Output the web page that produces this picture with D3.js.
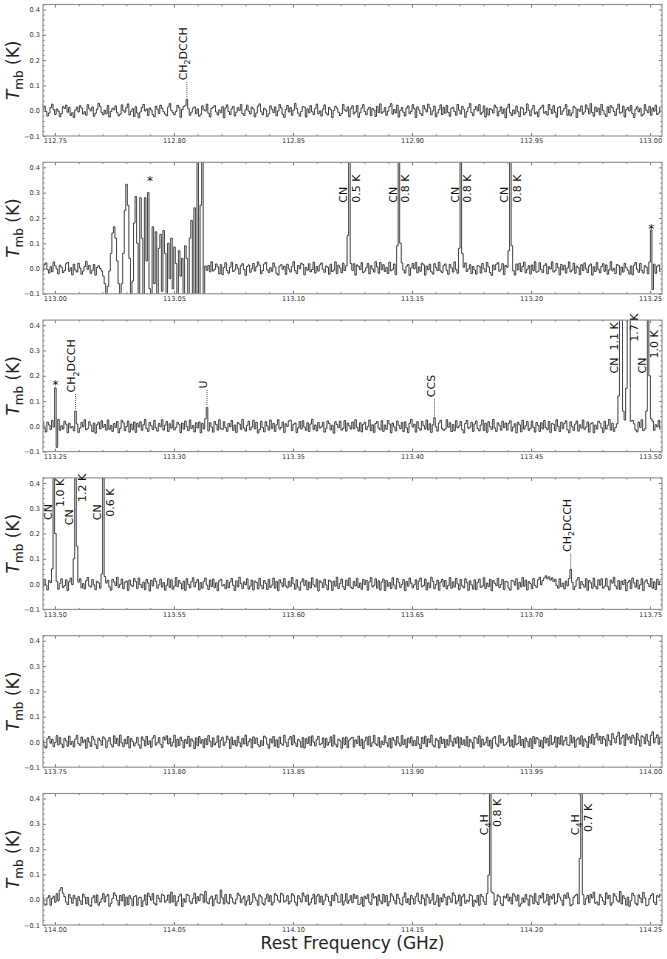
<!DOCTYPE html>
<html><head><meta charset="utf-8">
<script src="https://cdn.jsdelivr.net/npm/d3@7"></script>
<style>body{margin:0;background:#fff;} text{font-family:"DejaVu Sans",sans-serif;}</style>
</head><body><svg id="c" width="667" height="959"></svg>
<script>
// ---- data ----
const panelStart = [112.745, 112.995, 113.245, 113.495, 113.745, 113.995]; // GHz, left edge of each panel
const panelSpan = 0.26;
const chanWidth = 0.00065; // GHz per channel
const yMin = -0.1, yMax = 0.42;
const xTickVals = [
  [112.75,112.80,112.85,112.90,112.95,113.00],
  [113.00,113.05,113.10,113.15,113.20,113.25],
  [113.25,113.30,113.35,113.40,113.45,113.50],
  [113.50,113.55,113.60,113.65,113.70,113.75],
  [113.75,113.80,113.85,113.90,113.95,114.00],
  [114.00,114.05,114.10,114.15,114.20,114.25]];
const yTickVals = [-0.1,0.0,0.1,0.2,0.3,0.4];
const yTickLabels = ["\u22120.1","0.0","0.1","0.2","0.3","0.4"];

// baseline spectra (mK), one value per channel
const spec1 = [5,18,-3,-21,-9,12,26,4,-15,7,-2,-24,-11,16,9,22,-6,13,-19,-8,
-27,3,14,-5,20,11,-13,-4,-18,24,8,-1,15,-22,-10,6,29,17,-7,-16,
2,-12,21,-25,-3,10,4,19,-8,-20,-14,23,1,-6,12,27,-17,-2,8,-23,
16,-9,-28,-5,13,25,-1,7,-19,11,3,-15,-24,18,6,-11,22,9,-4,-13,
-20,14,28,2,-7,-16,-3,21,12,-26,5,17,-9,-2,24,-18,-6,10,15,-12,
7,-22,-14,19,4,-1,26,-10,-25,9,13,20,-5,-17,3,-8,16,-28,11,23,
-3,-15,8,17,-21,-6,12,1,25,-11,-19,4,22,-2,-13,14,7,-24,-9,18,
27,-4,-16,10,3,-23,-12,19,6,-7,15,-20,-1,24,11,-14,-26,5,21,-5,
12,-18,2,29,8,-10,-22,-3,16,14,-25,7,-8,20,-4,-15,9,26,-12,-1,
-21,6,23,-9,-17,13,4,-27,1,18,10,-6,-19,-11,25,3,-2,15,-24,8,
19,-13,-5,21,-26,-8,11,24,-3,-16,6,14,-20,9,2,-23,17,-7,27,-10,
-4,12,-18,-2,16,28,-14,5,-9,22,-25,1,13,-6,-21,10,19,-12,-3,24,
8,-27,15,3,-11,-19,20,7,-5,26,11,-16,-1,18,-24,-9,4,23,-15,13,
-10,21,-7,-22,9,14,-3,-18,25,2,-13,17,6,-26,-4,12,28,-8,-20,5,
16,-1,24,-14,-6,19,-25,10,-17,8,4,-9,22,13,-21,-2,15,-11,7,-28,
11,26,-8,-19,3,-12,18,-4,-23,14,9,-16,-7,27,1,-20,6,21,-13,-5,
-24,7,13,22,-10,-3,-17,25,5,-11,20,-6,-26,12,16,-15,-1,9,24,-18,
3,-20,-9,17,11,-27,6,-2,19,-14,-5,23,8,-12,28,-7,-22,14,-4,10,
-16,25,1,-13,-23,15,-8,20,12,-3,-19,7,26,-10,-6,18,-25,4,13,-1,
21,-11,-27,6,16,-5,9,-21,-14,24,2,-8,17,-18,11,-2,22,-15,-9,14];
const spec2 = [-9,15,22,-4,-18,7,-13,26,10,-2,-21,13,5,-16,-8,19,24,-11,3,-25,
17,-6,-14,21,2,-23,-10,8,28,-3,12,-19,-7,16,-26,4,11,-15,23,1,
-12,20,6,-27,-5,14,18,-9,-20,3,25,-16,9,-1,-22,13,-7,27,-13,5,
24,-3,-17,11,16,-24,-8,2,19,-12,-26,7,21,-5,10,-18,15,-2,-21,12,
-6,26,-11,-19,8,3,22,-14,5,-28,13,17,-4,-9,24,-20,1,11,-15,18,
9,-16,14,-2,-25,20,-7,12,-13,27,-10,-3,18,6,-21,15,-24,4,23,-8,
-19,5,25,-12,-6,16,1,-22,11,19,-4,-27,8,14,-15,-1,20,-10,7,26,
13,-21,-8,18,24,-5,-16,3,-11,22,6,-19,-26,10,15,-3,9,-23,17,-2,
-14,7,27,-9,-20,12,-1,21,16,-25,4,-7,19,-13,-4,25,-18,8,-10,14,
22,-3,-15,10,5,-23,17,-12,-6,26,-20,13,2,-17,21,-8,-24,16,1,-11,
-7,19,-26,14,8,-4,23,-16,-10,3,20,-21,11,-2,-14,27,6,-19,24,-5,
15,-12,4,-20,25,-9,-3,18,-24,12,-15,7,22,-6,-18,9,16,-27,2,20,
-1,24,-17,6,-11,21,14,-26,9,-5,17,-13,-22,19,4,-8,25,-10,-16,11,
18,-7,-23,16,3,-14,26,-4,-19,13,10,-25,5,22,-12,-2,15,-20,8,-6,
-22,11,9,-18,20,-1,-13,24,7,-16,-27,14,-5,17,23,-11,-3,19,-24,12,
5,-20,16,2,-9,-26,18,-6,21,-12,8,25,-17,-3,11,-22,14,-8,27,-15,
-11,23,-4,-16,12,19,-21,7,-2,26,-14,-9,20,4,-25,16,-6,13,-18,2,
26,-13,-6,21,-19,9,3,-24,15,-8,22,-1,-16,10,18,-26,7,-12,24,-4,
-17,8,19,-11,14,-23,-5,27,-9,1,-20,16,12,-24,6,-14,21,3,-7,-22,
10,-25,13,24,-3,-15,20,-8,-18,11,5,-21,26,-10,-2,17,-19,9,14,-12];
const spec3 = [14,-8,-22,17,5,-13,23,-3,-19,10,27,-16,2,-11,20,8,-25,12,-6,-1,
-18,21,9,-24,-7,15,-2,26,-14,-9,18,4,-21,13,-27,6,16,-10,22,-4,
7,-15,25,-12,3,-20,11,-5,19,-26,-8,24,14,-17,-1,21,-23,9,-13,17,
-24,12,-3,18,-16,6,27,-9,-20,15,2,-13,23,-6,-19,11,-2,26,-15,4,
19,-21,10,-7,24,-14,-4,16,8,-25,13,-11,21,-1,-17,25,-8,3,-22,14,
-6,17,-26,12,-10,22,3,-18,14,-3,-23,19,7,-15,26,-9,-12,18,-5,-20,
11,-2,23,-16,5,-24,15,9,-12,27,-7,-19,4,20,-14,-3,24,-10,16,-26,
-13,20,-5,-22,18,1,-15,25,-8,12,-20,6,26,-11,-4,17,-24,10,-1,21,
24,-17,8,13,-25,-6,19,-10,22,-3,-16,14,-21,9,28,-12,5,-18,15,-7,
-2,16,-23,-9,21,11,-14,4,-27,18,7,-5,20,-15,-8,23,-19,13,2,-11,
17,-10,26,-4,-19,14,-22,8,16,-13,-1,25,-17,6,-24,11,19,-7,-14,22,
-20,5,-12,23,9,-26,13,-2,-18,21,4,-9,15,-21,18,-6,-25,12,27,-3,
8,-23,18,-7,-15,20,3,-11,25,-14,10,-24,6,17,-2,-19,13,24,-9,-16,
-11,26,-4,14,-21,7,-17,22,-6,1,19,-13,-26,11,23,-8,-3,16,-20,9,
21,-9,-18,5,25,-16,12,-24,18,-2,-12,27,-7,-20,14,4,-15,20,-5,13,
-15,12,22,-19,-3,10,-26,16,6,-22,24,-11,2,19,-16,-8,21,-4,-23,15,
3,-20,14,-10,23,-5,-13,19,-24,11,8,-17,26,-1,-21,16,-9,12,22,-14,
-25,18,-1,-16,9,21,-19,6,-7,25,-12,-3,17,-23,10,14,-26,5,-11,20,
13,-6,-24,20,-11,4,27,-15,12,-20,-5,22,9,-18,-3,25,-13,18,-8,-21,
-8,23,10,-14,-22,17,-4,26,-17,2,15,-25,11,-9,21,-16,6,-2,24,-12];
const spec4 = [-12,19,-4,-23,14,6,-17,25,-9,11,-20,3,21,-14,-6,17,-25,9,24,-2,
16,-10,-26,8,21,-15,2,-19,13,26,-7,-12,18,-3,-22,11,5,-16,23,-8,
-21,4,15,-11,-24,19,9,-6,27,-13,-1,20,-18,7,12,-25,16,-4,-9,22,
10,-17,24,-2,-14,8,-22,18,4,-27,15,-7,23,11,-16,-3,20,-12,6,-24,
-5,21,-13,17,-20,-8,26,-10,14,3,-19,12,-25,22,-1,-15,9,25,-11,7,
18,-23,6,-16,11,24,-4,-21,16,-9,20,-14,5,-26,13,19,-7,-2,-18,15,
-14,8,22,-5,-25,13,-11,27,2,-17,9,-3,21,-20,-8,16,-23,12,7,-19,
23,-6,-18,14,3,-21,19,-13,-4,24,-16,10,-26,17,5,-10,22,-7,-15,11,
-9,26,1,-20,17,-12,-24,9,21,-5,14,-22,8,-15,25,-3,-11,19,-27,13,
6,-14,19,-3,-22,16,10,-25,12,-8,27,-17,2,20,-10,-21,15,-6,24,-12,
-18,11,-7,23,-13,4,-20,18,-2,15,-24,9,26,-11,-5,21,-16,13,-23,8,
20,-25,14,-9,6,-17,25,-4,-19,22,7,-13,-1,18,-26,10,-8,24,3,-15,
-3,17,-21,12,24,-11,-6,20,-23,5,-14,27,11,-18,-2,16,-24,8,19,-10,
14,-19,-5,26,-16,9,-12,23,1,-22,18,-7,-15,21,6,-25,13,-3,-20,17,
-22,7,20,-13,-8,25,-17,4,-10,19,-26,14,3,-6,23,-14,-1,18,-21,11,
9,-16,-24,15,12,-4,21,-20,7,-11,26,-8,16,-23,10,2,-18,22,-5,-13,
17,27,-3,14,24,33,21,29,16,25,10,19,-5,-16,21,-10,4,-19,12,-7,
22,-14,7,-21,-9,16,26,-17,10,-2,-12,21,-24,14,5,-16,24,-9,-19,17,
-4,21,-16,-8,22,-10,-23,16,4,27,-7,-19,14,-21,12,-2,17,-26,7,14,
-17,24,5,-12,16,-19,-3,21,-25,9,17,2,-10,22,-16,9,-21,19,-2,12];
const spec5 = [7,-16,-24,13,21,-5,10,-19,-2,25,-12,17,-8,-22,14,4,-17,23,-10,2,
-20,11,26,-7,-14,19,-3,8,-25,16,-1,-18,22,9,-11,-26,15,6,-13,20,
12,-23,3,17,-9,-20,24,-6,14,-15,27,-4,-19,10,-8,21,-24,13,1,-16,
-4,18,-12,-25,20,7,-16,22,-10,4,-21,15,25,-13,-3,17,-9,-22,19,8,
24,-8,14,-17,-2,26,-20,11,-14,19,5,-24,9,-6,22,-18,12,3,-26,16,
-15,21,-5,9,-23,13,-10,25,2,-19,16,-12,-3,24,-21,7,18,-14,-1,23,
10,-26,19,-11,6,-16,22,-3,-20,14,-8,27,-15,1,12,-23,20,-6,15,-10,
-19,5,-14,23,16,-9,-25,12,-4,21,-17,8,-22,19,-7,-13,26,-2,-18,11,
21,-12,25,-4,-18,10,3,-21,17,-24,13,-6,20,-14,24,-1,-16,9,22,-11,
-7,16,-22,14,-13,-2,20,-17,27,-9,-20,11,5,-25,16,-10,19,-23,7,14,
18,-20,8,-6,23,-15,11,-26,4,19,-12,22,-18,-3,26,-8,-14,17,-21,3,
-11,24,-3,-19,14,-24,17,6,-13,21,-5,-16,25,-10,9,-22,15,-4,20,-15,
5,-14,21,-9,-26,18,-7,23,-18,12,-2,27,-12,-20,13,6,-24,19,-6,11,
-22,9,-13,26,1,-17,15,-5,20,-23,16,-10,8,-15,22,-19,10,-1,-25,18,
15,-6,24,-20,11,-12,-3,19,-16,7,-25,14,21,-8,-18,25,-4,12,-14,-9,
-2,20,-17,8,-21,27,-11,-6,23,-14,10,-22,16,2,-19,13,-26,21,-7,17,
11,-18,6,-24,19,-4,14,-15,25,-10,-3,20,-21,17,-9,24,-13,5,18,-12,
-14,26,-4,19,-21,9,16,-9,24,-17,12,2,-22,21,-5,29,-10,17,34,7,
22,-7,21,10,-16,28,5,-12,33,14,-4,22,38,-9,17,26,-14,31,10,20,
-5,27,16,-10,34,7,-17,24,19,-7,30,4,-14,26,40,-4,16,28,-9,19];
const spec6 = [10,-17,-21,7,16,-22,5,14,-10,24,-4,38,48,26,12,-9,-19,21,7,-14,
17,5,-24,12,-4,-19,22,10,-16,9,-21,-26,7,16,-12,19,-22,-10,4,24,
-9,14,21,-26,-14,5,27,17,-2,-22,17,-5,21,-24,10,-19,16,4,-24,12,
16,-22,7,10,-27,-4,19,-21,26,12,-2,24,-14,-21,17,5,-9,22,17,-10,
-2,19,-12,30,-9,16,-24,-7,14,22,-27,4,-10,21,17,-7,-16,5,26,-14,
12,-4,22,19,-10,33,-9,-16,5,14,-24,2,19,-12,-14,38,7,-17,21,-9,
-16,21,7,-10,-17,2,26,17,-12,4,14,-22,-5,16,-19,-10,24,9,-2,-22,
19,12,-14,-21,5,22,-7,16,-21,-10,24,17,-2,-10,26,19,-9,-4,16,-17,
-7,24,16,-10,-22,16,4,-9,27,14,-7,19,-21,-12,5,22,-17,14,21,-10,
14,-19,-2,22,12,-7,-24,17,-4,26,16,-10,-9,21,-21,-5,24,-14,-2,16,
-12,22,5,16,-19,-17,10,-26,14,4,21,-10,-19,24,7,12,-22,19,-5,-16,
21,-9,17,-24,-7,24,14,-2,-17,22,5,-16,-21,10,27,-12,4,-19,17,4,
-17,12,26,-7,-16,19,5,-22,21,10,-14,-2,24,-19,-9,17,-26,7,-9,22,
9,-21,14,4,-10,27,17,-16,-5,19,-24,12,22,-14,-2,-7,21,16,-26,-2,
-10,17,-22,21,12,-7,-19,24,4,10,-16,26,-21,-5,19,12,-16,-24,14,7,
22,-5,10,-17,24,14,-4,19,-26,-16,7,-10,21,2,-22,17,12,-16,24,-9,
-19,16,7,26,-12,-5,21,-21,14,4,22,-17,-9,24,10,-2,-22,19,5,27,
7,-24,-19,9,16,22,-16,10,2,-26,-19,4,17,-12,21,7,30,-14,-9,-21,
21,10,-5,-19,27,4,17,-22,-12,24,14,-2,-9,33,-17,16,5,-22,10,-26,
-4,26,16,-14,-21,19,7,-12,29,7,-24,-21,4,17,24,-10,-19,16,10,22];

// emission / spurious features (mK), written over the baseline channels
const featPanel = [0, 1, 1, 1, 1, 1, 1, 2, 2, 2, 2, 2, 2, 3, 3, 3, 3, 5, 5];
const featStart = [92, 37, 196, 229, 269, 301, 393, 8, 21, 105, 253, 371, 389, 6, 20, 38, 341, 288, 347];
const featVals = [
  [20, 45, 8],
  [0,-10,-30,-60,-100,-70,-10,60,140,165,120,30,-60,-110,-60,60,230,333,250,40,-120,-50,180,285,100,-110,280,120,-120,280,30,300,-80,-110,165,-60,145,-100,80,135,-90,150,60,-110,100,-40,120,-80,85,20,-110,70,-30,40,-110,90,40,-110,120,190,-100,240,-110,900,-110,250,900,-110,10],
  [10,130,500,20],
  [90,800,100],
  [80,800,60],
  [70,800,90],
  [152,-83],
  [152,-83],
  [60],
  [30,75],
  [34],
  [10,120,1100,900,60,25,150,1700,600,20],
  [-10,60,1000,200,30],
  [60,1000,200],
  [100,1200,150],
  [40,600,30],
  [58],
  [97,800,30],
  [163,700,20]];

// line labels next to strong lines
const lblPanel = [1,1,1,1,1,1,1,1, 2,2,2,2, 3,3,3,3,3,3, 5,5,5,5];
const lblFreq = [113.1237,113.1237,113.1445,113.1445,113.1705,113.1705,113.1913,113.1913,
  113.48745,113.4907,113.49915,113.49915,
  113.49955,113.49955,113.50865,113.50865,113.52035,113.52035,
  114.18285,114.18285,114.2212,114.2212];
const lblText = ["CN","0.5 K","CN","0.8 K","CN","0.8 K","CN","0.8 K",
  "CN  1.1 K","1.7 K","CN","1.0 K",
  "CN","1.0 K","CN","1.2 K","CN","0.6 K",
  "C_4H","0.8 K","C_4H","0.7 K"];
const lblSide = ["L","R","L","R","L","R","L","R", "L","R","L","R", "L","R","L","R","L","R", "L","R","L","R"];
const lblBase = [0.26,0.26,0.26,0.26,0.26,0.26,0.26,0.26,
  0.209,0.334,0.209,0.268,
  0.254,0.305,0.233,0.325,0.253,0.266,
  0.255,0.288,0.255,0.268];

// weak-line labels with dotted leaders
const dotPanel = [0, 2, 2, 2, 3];
const dotFreq = [112.80545, 113.25865, 113.3139, 113.40945, 113.71665];
const dotText = ["CH_2DCCH", "CH_2DCCH", "U", "CCS", "CH_2DCCH"];
const dotBase = [0.12, 0.134, 0.15, 0.115, 0.127];
const dotEnd = [0.05, 0.07, 0.083, 0.035, 0.055];

// asterisks
const starPanel = [1, 1, 2];
const starFreq = [113.0399, 113.25045, 113.2502];
const starVal = [0.356, 0.17, 0.175];

// ---- drawing ----
const svg = d3.select("#c");
const L = 43, R = 662, T0 = 4.5, PSTEP = 157.8, PH = 131.5;
const baseSpec = [spec1, spec2, spec3, spec4, spec5, spec6];
const spectra = baseSpec.map(a => a.slice());
featPanel.forEach((p, f) => featVals[f].forEach((v, j) => { spectra[p][featStart[f] + j] = v; }));

function chemText(sel, str, fs) {
  const parts = str.split(/_(\d)/);
  parts.forEach((p, i) => {
    if (p === "") return;
    if (i % 2 === 1) sel.append("tspan").attr("font-size", fs * 0.72).attr("dy", fs * 0.28).text(p);
    else sel.append("tspan").attr("dy", i > 0 ? -fs * 0.28 : 0).text(p);
  });
}

panelStart.forEach((s, i) => {
  const top = T0 + i * PSTEP;
  const x = d3.scaleLinear().domain([s, s + panelSpan]).range([L, R]);
  const y = d3.scaleLinear().domain([yMin, yMax]).range([top + PH, top]);
  const g = svg.append("g");
  const cid = "clip" + i;
  svg.append("clipPath").attr("id", cid).append("rect")
    .attr("x", L).attr("y", top).attr("width", R - L).attr("height", PH);

  const line = d3.line().x(d => x(d[0])).y(d => y(d[1])).curve(d3.curveStep);
  const pts = spectra[i].map((v, k) => [s + k * chanWidth, v / 1000]);
  g.append("path").attr("clip-path", `url(#${cid})`).attr("d", line(pts))
    .attr("fill", "none").attr("stroke", "#1e1e1e").attr("stroke-width", 0.85)
    .attr("stroke-linejoin", "miter");

  // ticks
  const majors = xTickVals[i];
  const minors = d3.range(Math.ceil(s / 0.01 - 1e-6), Math.floor((s + panelSpan) / 0.01 + 1e-6) + 1)
    .map(j => +(j * 0.01).toFixed(2)).filter(v => !majors.some(m => Math.abs(m - v) < 1e-6));
  const yMinors = d3.range(-5, 22).map(j => +(j * 0.02).toFixed(2)).filter(v => !yTickVals.some(m => Math.abs(m - v) < 1e-6));
  const styleAxis = a => { a.select(".domain").remove(); a.attr("color", "#555").attr("font-family", "DejaVu Sans").attr("font-size", 6.6);
    a.selectAll("text").attr("fill", "#333"); a.selectAll("line").attr("stroke-width", 0.8); };

  g.append("g").attr("transform", `translate(0,${top + PH})`)
    .call(d3.axisBottom(x).tickValues(majors).tickSize(-3).tickPadding(2.6).tickFormat(d3.format(".2f"))).call(styleAxis);
  g.append("g").attr("transform", `translate(0,${top + PH})`)
    .call(d3.axisBottom(x).tickValues(minors).tickSize(-1.6).tickFormat("")).call(styleAxis);
  g.append("g").attr("transform", `translate(0,${top})`)
    .call(d3.axisTop(x).tickValues(majors).tickSize(-3).tickFormat("")).call(styleAxis);
  g.append("g").attr("transform", `translate(0,${top})`)
    .call(d3.axisTop(x).tickValues(minors).tickSize(-1.6).tickFormat("")).call(styleAxis);
  g.append("g").attr("transform", `translate(${L},0)`)
    .call(d3.axisLeft(y).tickValues(yTickVals).tickSize(-3).tickPadding(3).tickFormat((d, k) => yTickLabels[k])).call(styleAxis);
  g.append("g").attr("transform", `translate(${L},0)`)
    .call(d3.axisLeft(y).tickValues(yMinors).tickSize(-1.6).tickFormat("")).call(styleAxis);
  g.append("g").attr("transform", `translate(${R},0)`)
    .call(d3.axisRight(y).tickValues(yTickVals).tickSize(-3).tickFormat("")).call(styleAxis);
  g.append("g").attr("transform", `translate(${R},0)`)
    .call(d3.axisRight(y).tickValues(yMinors).tickSize(-1.6).tickFormat("")).call(styleAxis);

  g.append("rect").attr("x", L).attr("y", top).attr("width", R - L).attr("height", PH)
    .attr("fill", "none").attr("stroke", "#8c8c8c").attr("stroke-width", 1.1);

  // y label
  const yl = g.append("text").attr("transform", `translate(19,${top + PH / 2}) rotate(-90)`)
    .attr("text-anchor", "middle").attr("font-size", 17).attr("fill", "#222");
  yl.append("tspan").attr("font-style", "italic").text("T");
  yl.append("tspan").attr("font-size", 12).attr("dy", 4).text("mb");
  yl.append("tspan").attr("dy", -4).text(" (K)");

  // strong-line labels
  lblPanel.forEach((p, k) => {
    if (p !== i) return;
    const x0 = x(lblFreq[k]);
    const tx = lblSide[k] === "L" ? x0 - 2.3 : x0 + 10.3;
    const t = g.append("text").attr("transform", `translate(${tx},${y(lblBase[k])}) rotate(-90)`)
      .attr("font-size", 11).attr("fill", "#111").style("white-space", "pre");
    chemText(t, lblText[k], 11);
  });
  // dotted labels
  dotPanel.forEach((p, k) => {
    if (p !== i) return;
    const x0 = x(dotFreq[k]);
    g.append("line").attr("x1", x0).attr("x2", x0).attr("y1", y(dotBase[k]) + 1.5).attr("y2", y(dotEnd[k]))
      .attr("stroke", "#222").attr("stroke-width", 0.8).attr("stroke-dasharray", "1,1");
    const t = g.append("text").attr("transform", `translate(${x0},${y(dotBase[k])}) rotate(-90)`)
      .attr("font-size", 11).attr("fill", "#111");
    const inner = t.append("tspan").attr("dy", "0.36em");
    chemText(inner, dotText[k], 11);
  });
  // stars
  starPanel.forEach((p, k) => {
    if (p !== i) return;
    g.append("text").attr("x", x(starFreq[k])).attr("y", y(starVal[k]) + 7).attr("text-anchor", "middle")
      .attr("font-size", 12).attr("fill", "#111").text("*");
  });
});

svg.append("text").attr("x", (L + R) / 2).attr("y", 949).attr("text-anchor", "middle")
  .attr("font-size", 17).attr("fill", "#222").text("Rest Frequency (GHz)");
</script>
</body></html>
